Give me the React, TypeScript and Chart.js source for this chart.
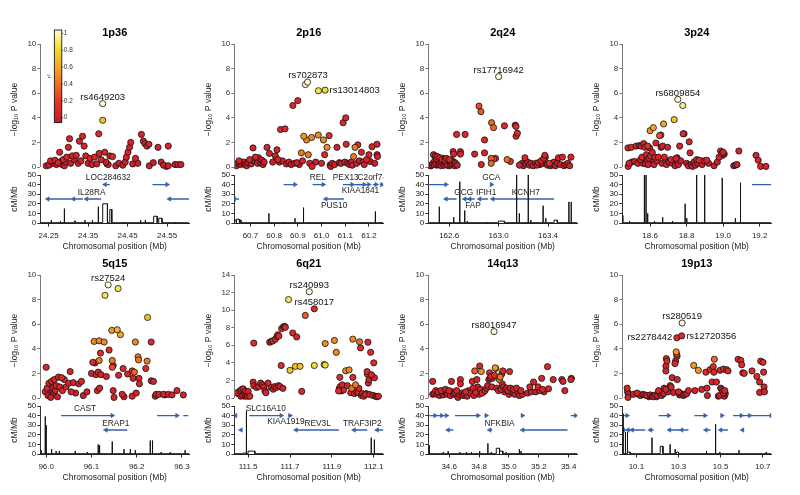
import React, { useEffect, useRef } from 'react';
import { Chart, registerables } from 'chart.js';

Chart.register(...registerables);

type Snp = [number, number, number];
type Gene = [number, number, number, number, string?, number?, number?];
type Seg = [number, number, number];
type RsLabel = [string, number, number, string];

const FONT = "'Liberation Sans', Arial, sans-serif";
Chart.defaults.font.family = FONT;
Chart.defaults.color = '#222';

// ---------- data ----------
const regionTitles = ['1p36', '2p16', '2q24', '3p24', '5q15', '6q21', '14q13', '19p13'];
const xWindows: [number, number][] = [
  [24.229, 24.606], [60.632, 61.26], [162.431, 163.636], [18.448, 19.263],
  [95.987, 96.316], [111.434, 112.145], [34.46, 35.457], [10.033, 10.74],
];
const yTops = [10, 10, 10, 10, 10, 14, 10, 10];
const recTicks = [0, 10, 20, 30, 40, 50];
const r2TickLabels = ['0', '0.2', '0.4', '0.6', '0.8', '1'];

const xTicks1p36 = ['24.25', '24.35', '24.45', '24.55'];
const xTicks2p16 = ['60.7', '60.8', '60.9', '61.0', '61.1', '61.2'];
const xTicks2q24 = ['162.6', '163.0', '163.4'];
const xTicks3p24 = ['18.6', '18.8', '19.0', '19.2'];
const xTicks5q15 = ['96.0', '96.1', '96.2', '96.3'];
const xTicks6q21 = ['111.5', '111.7', '111.9', '112.1'];
const xTicks14q13 = ['34.6', '34.8', '35.0', '35.2', '35.4'];
const xTicks19p13 = ['10.1', '10.3', '10.5', '10.7'];

const snps1p36: Snp[] = [
  [24.244,0.1,0.05],[24.251,0.15,0.05],[24.255,0.5,0.1],[24.262,0.3,0.05],[24.266,0.55,0.1],[24.27,0.2,0.05],[24.274,0.35,0.1],[24.278,1.2,0.1],[24.281,0.45,0.05],[24.284,0.2,0.05],[24.287,0.6,0.1],[24.29,0.1,0.05],[24.293,0.4,0.05],[24.296,0.8,0.1],[24.3,1.6,0.1],[24.303,2.3,0.1],[24.306,0.3,0.05],[24.31,0.9,0.1],[24.315,0.6,0.05],[24.32,0.95,0.1],[24.325,0.3,0.05],[24.328,2.1,0.1],[24.332,0.5,0.1],[24.336,2.5,0.1],[24.34,1.7,0.1],[24.344,0.9,0.1],[24.35,0.3,0.05],[24.355,0.7,0.1],[24.36,0.2,0.05],[24.366,0.8,0.1],[24.372,0.25,0.05],[24.377,2.7,0.15],[24.378,1.1,0.1],[24.383,0.6,0.1],[24.387,5.15,1],[24.387,3.8,0.7],[24.392,1.2,0.1],[24.395,0.4,0.05],[24.398,0.25,0.02],[24.401,0.2,0.02],[24.405,0.9,0.1],[24.412,0.85,0.1],[24.42,0.1,0.05],[24.428,0.3,0.05],[24.438,0.15,0.05],[24.444,0.4,0.05],[24.447,0.8,0.1],[24.451,1.2,0.1],[24.455,1.6,0.1],[24.458,2.0,0.1],[24.463,0.25,0.05],[24.47,0.7,0.1],[24.476,0.3,0.05],[24.485,2.65,0.1],[24.49,2.1,0.1],[24.494,1.9,0.1],[24.499,1.7,0.1],[24.504,1.85,0.1],[24.505,0.1,0.05],[24.515,0.35,0.05],[24.527,1.6,0.1],[24.535,0.4,0.05],[24.541,0.15,0.05],[24.548,0.05,0.02],[24.553,1.7,0.1],[24.553,0.1,0.05],[24.57,0.2,0.05],[24.577,0.2,0.05],[24.585,0.2,0.05],
];
const snps2p16: Snp[] = [
  [60.641,0.1,0.05],[60.646,0.3,0.05],[60.652,0.5,0.1],[60.657,0.2,0.05],[60.662,0.35,0.05],[60.668,0.25,0.02],[60.673,0.4,0.05],[60.678,0.2,0.05],[60.684,0.1,0.05],[60.69,0.35,0.05],[60.697,0.6,0.1],[60.703,0.25,0.05],[60.711,1.55,0.1],[60.716,0.5,0.05],[60.721,0.8,0.1],[60.726,0.65,0.05],[60.73,0.3,0.05],[60.735,0.75,0.05],[60.739,0.45,0.02],[60.744,0.3,0.05],[60.749,0.55,0.05],[60.753,0.2,0.05],[60.758,0.4,0.05],[60.77,1.6,0.1],[60.78,1.1,0.1],[60.794,0.4,0.05],[60.805,0.9,0.1],[60.812,1.4,0.1],[60.816,0.6,0.1],[60.822,0.4,0.05],[60.827,3.05,0.15],[60.846,3.1,0.15],[60.835,0.5,0.05],[60.852,0.25,0.05],[60.862,0.4,0.05],[60.872,0.2,0.05],[60.879,5.0,0.15],[60.886,0.3,0.05],[60.9,5.4,0.15],[60.896,0.35,0.05],[60.906,0.2,0.02],[60.915,1.15,0.45],[60.92,0.5,0.1],[60.925,2.5,0.55],[60.932,6.7,1.0],[60.937,2.2,0.5],[60.941,6.9,1.0],[60.944,1.0,0.45],[60.95,0.3,0.1],[60.958,2.4,0.5],[60.96,0.05,0.1],[60.975,0.4,0.05],[60.986,2.6,0.5],[60.987,6.2,0.85],[61.0,0.3,0.1],[61.008,2.2,0.5],[61.013,1.0,0.15],[61.015,6.25,0.8],[61.023,1.6,0.5],[61.032,2.55,0.2],[61.036,0.15,0.05],[61.039,0.05,0.05],[61.045,0.3,0.05],[61.055,0.2,0.05],[61.065,1.6,0.1],[61.075,0.35,0.05],[61.082,0.3,0.05],[61.091,3.6,0.15],[61.098,0.4,0.05],[61.102,4.0,0.15],[61.104,1.85,0.1],[61.11,0.3,0.05],[61.118,0.2,0.05],[61.125,0.4,0.05],[61.13,0.15,0.05],[61.135,0.85,0.45],[61.141,1.6,0.45],[61.148,0.3,0.05],[61.153,1.8,0.15],[61.16,0.5,0.05],[61.168,1.2,0.1],[61.175,0.4,0.05],[61.18,0.2,0.05],[61.19,0.6,0.1],[61.2,1.0,0.1],[61.205,0.45,0.05],[61.213,1.65,0.1],[61.224,0.3,0.05],[61.234,1.85,0.1],[61.234,1.0,0.05],[61.236,0.85,0.05],
];
const snps2q24: Snp[] = [
  [162.445,0.1,0.05],[162.452,0.1,0.02],[162.46,0.15,0.05],[162.468,0.3,0.05],[162.473,1.0,0.1],[162.478,0.2,0.05],[162.483,0.5,0.05],[162.488,0.9,0.1],[162.493,0.3,0.05],[162.498,0.7,0.1],[162.5,0.15,0.02],[162.505,0.85,0.1],[162.51,0.4,0.05],[162.515,0.6,0.05],[162.52,0.2,0.05],[162.525,0.75,0.1],[162.53,0.4,0.05],[162.536,0.1,0.05],[162.542,0.6,0.1],[162.548,0.3,0.05],[162.554,0.7,0.05],[162.56,0.15,0.05],[162.566,0.55,0.1],[162.572,0.3,0.05],[162.578,0.7,0.1],[162.584,0.2,0.05],[162.59,0.5,0.05],[162.596,0.1,0.02],[162.602,0.6,0.1],[162.608,0.3,0.05],[162.614,0.15,0.05],[162.62,0.55,0.05],[162.626,0.25,0.05],[162.632,1.25,0.1],[162.636,1.05,0.1],[162.64,0.4,0.05],[162.646,0.1,0.05],[162.652,0.3,0.05],[162.66,2.65,0.15],[162.665,0.15,0.05],
  [162.691,1.25,0.1],[162.691,1.05,0.1],[162.729,2.65,0.15],[162.806,1.05,0.1],[162.841,4.95,0.3],[162.857,4.5,0.35],[162.86,0.2,0.1],[162.886,2.2,0.15],[162.886,1.15,0.1],[162.943,3.6,0.4],[162.959,3.2,0.4],[162.94,0.3,0.4],[162.94,0.7,0.35],[162.96,0.65,0.3],[162.975,0.7,0.2],[163.0,7.35,1.0],[163.047,3.35,0.15],[163.069,0.6,0.4],[163.095,0.45,0.2],[163.135,3.4,0.15],[163.141,3.3,0.15],[163.141,2.5,0.15],[163.152,2.75,0.15],[163.168,0.15,0.1],[163.19,0.3,0.05],[163.2,0.1,0.05],[163.213,0.75,0.1],[163.22,0.25,0.05],[163.235,0.4,0.05],[163.25,0.15,0.05],[163.262,0.3,0.05],[163.28,0.1,0.05],[163.29,0.2,0.02],[163.3,0.3,0.05],[163.31,0.15,0.05],[163.322,0.35,0.05],[163.335,0.2,0.02],[163.345,0.5,0.1],[163.355,0.3,0.05],[163.365,0.7,0.1],[163.374,0.95,0.1],[163.378,0.8,0.05],[163.385,0.25,0.05],[163.395,0.15,0.05],[163.41,0.3,0.2],[163.42,0.1,0.05],[163.43,0.2,0.05],[163.448,0.4,0.05],[163.46,0.1,0.05],[163.475,0.3,0.05],[163.484,0.75,0.1],[163.5,0.2,0.05],[163.516,0.8,0.1],[163.53,0.1,0.05],[163.545,0.2,0.05],[163.56,0.3,0.05],[163.575,0.1,0.05],[163.585,0.8,0.1],
];
const snps3p24: Snp[] = [
  [18.479,1.55,0.1],[18.48,0.05,0.1],[18.485,0.3,0.1],[18.497,1.6,0.1],[18.5,0.4,0.05],[18.515,0.45,0.05],[18.524,1.7,0.1],[18.533,0.3,0.05],[18.542,1.75,0.1],[18.548,0.6,0.1],[18.551,1.7,0.1],[18.556,0.8,0.1],[18.56,0.3,0.05],[18.565,1.9,0.1],[18.569,0.5,0.05],[18.572,1.6,0.15],[18.576,0.25,0.05],[18.58,1.0,0.1],[18.583,0.6,0.05],[18.587,1.7,0.2],[18.59,0.2,0.05],[18.594,0.7,0.1],[18.6,2.95,0.55],[18.598,1.55,0.1],[18.603,0.9,0.1],[18.607,0.35,0.02],[18.612,1.2,0.1],[18.615,0.6,0.05],[18.618,3.2,0.6],[18.622,0.2,0.05],[18.628,0.8,0.1],[18.632,1.95,0.1],[18.638,0.5,0.05],[18.645,0.8,0.1],[18.652,2.55,0.3],[18.659,2.6,0.25],[18.66,1.6,0.1],[18.665,0.3,0.05],[18.669,1.7,0.1],[18.674,3.5,0.6],[18.678,0.8,0.1],[18.684,0.5,0.05],[18.69,0.2,0.05],[18.696,1.6,0.1],[18.705,0.4,0.05],[18.714,0.6,0.1],[18.723,0.3,0.05],[18.732,3.85,0.7],[18.737,0.1,0.05],[18.742,0.7,0.1],[18.748,0.75,0.02],[18.752,5.5,1.0],[18.755,0.2,0.05],[18.762,1.7,0.1],[18.768,0.5,0.05],[18.779,5.0,0.9],[18.781,2.7,0.15],[18.786,2.7,0.1],[18.8,0.3,0.05],[18.81,0.1,0.05],[18.814,2.05,0.1],[18.819,1.15,0.1],[18.825,0.2,0.05],[18.832,0.05,0.05],[18.84,0.4,0.05],[18.848,0.15,0.05],[18.855,0.6,0.1],[18.86,0.3,0.05],[18.868,0.55,0.1],[18.877,0.5,0.05],[18.885,0.2,0.05],[18.895,0.5,0.05],[18.91,0.55,0.1],[18.92,0.3,0.05],[18.95,0.1,0.05],[18.968,0.4,0.05],[18.978,0.8,0.1],[18.986,1.3,0.1],[18.993,1.1,0.1],[18.997,0.95,0.05],[19.0,1.2,0.1],[19.006,1.05,0.02],[19.058,0.1,0.05],[19.067,0.15,0.05],[19.076,0.2,0.05],[19.086,1.3,0.1],[19.18,0.95,0.1],[19.192,0.55,0.1],[19.205,0.05,0.1],[19.234,0.05,0.1],
];
const snps5q15: Snp[] = [
  [96.0,2.5,0.1],[95.998,0.5,0.05],[96.002,0.8,0.1],[96.004,0.2,0.05],[96.006,1.2,0.1],[96.008,0.4,0.02],[96.01,0.05,0.05],[96.012,1.35,0.1],[96.014,0.8,0.05],[96.016,0.3,0.02],[96.018,1.5,0.1],[96.02,0.6,0.05],[96.022,1.0,0.1],[96.025,0.1,0.05],[96.027,1.7,0.15],[96.03,0.9,0.1],[96.034,1.65,0.15],[96.036,0.6,0.1],[96.04,1.5,0.1],[96.044,0.9,0.1],[96.05,1.2,0.1],[96.053,2.15,0.1],[96.055,0.5,0.1],[96.06,1.25,0.1],[96.065,0.4,0.05],[96.072,1.15,0.1],[96.078,1.35,0.1],[96.082,0.2,0.05],[96.09,0.5,0.1],[96.1,2.0,0.1],[96.103,2.9,0.15],[96.106,4.6,0.5],[96.108,2.85,0.1],[96.11,1.9,0.1],[96.113,0.6,0.1],[96.115,2.1,0.1],[96.117,4.65,0.5],[96.117,3.05,0.45],[96.118,0.8,0.1],[96.12,3.65,0.15],[96.121,1.9,0.1],[96.128,4.55,0.5],[96.13,8.35,0.85],[96.133,1.75,0.1],[96.137,9.2,1.0],[96.139,3.9,0.15],[96.145,5.5,0.55],[96.146,3.05,0.45],[96.146,2.5,0.3],[96.148,2.65,0.15],[96.148,0.6,0.1],[96.15,0.05,0.1],[96.157,5.55,0.65],[96.159,8.9,0.85],[96.16,1.85,0.1],[96.164,5.15,0.6],[96.168,0.3,0.1],[96.17,2.4,0.15],[96.172,0.1,0.05],[96.18,1.95,0.1],[96.19,2.2,0.15],[96.19,0.15,0.1],[96.192,1.6,0.1],[96.195,2.1,0.4],[96.197,4.55,0.5],[96.199,0.4,0.1],[96.203,3.35,0.45],[96.204,3.1,0.45],[96.205,1.6,0.1],[96.206,1.15,0.1],[96.22,2.4,0.15],[96.223,3.0,0.45],[96.224,6.55,0.7],[96.232,4.55,0.15],[96.232,1.4,0.1],[96.237,1.35,0.1],[96.241,0.15,0.1],[96.243,0.3,0.1],[96.249,0.3,0.1],[96.259,0.3,0.1],[96.262,0.25,0.05],[96.27,0.3,0.1],[96.278,0.25,0.1],[96.289,0.6,0.1],[96.303,0.25,0.1],
];
const snps6q21: Snp[] = [
  [111.445,0.6,0.1],[111.453,0.5,0.05],[111.461,0.8,0.1],[111.465,0.2,0.05],[111.468,0.95,0.1],[111.471,0.4,0.05],[111.476,1.05,0.1],[111.48,0.6,0.05],[111.484,0.2,0.02],[111.488,0.8,0.1],[111.492,0.5,0.05],[111.497,0.2,0.05],[111.5,0.75,0.1],[111.508,0.2,0.1],[111.524,1.8,0.1],[111.527,6.25,0.15],[111.527,1.4,0.1],[111.54,1.2,0.1],[111.55,1.3,0.1],[111.56,1.7,0.1],[111.568,1.5,0.1],[111.575,1.25,0.1],[111.58,0.8,0.1],[111.585,0.6,0.1],[111.595,1.7,0.1],[111.603,6.35,0.15],[111.61,1.2,0.1],[111.611,6.45,0.15],[111.618,6.5,0.15],[111.62,1.0,0.1],[111.626,1.3,0.1],[111.63,6.7,0.15],[111.635,1.2,0.1],[111.638,7.0,0.15],[111.642,7.2,0.15],[111.645,1.4,0.1],[111.647,7.05,0.15],[111.652,1.3,0.1],[111.658,3.7,0.15],[111.66,7.9,0.15],[111.666,1.1,0.1],[111.669,8.1,0.15],[111.674,8.15,0.15],[111.678,8.05,0.15],[111.693,11.2,0.85],[111.7,3.15,0.7],[111.713,7.4,0.15],[111.726,3.6,0.7],[111.732,6.95,0.15],[111.748,3.6,0.7],[111.756,0.75,0.15],[111.773,9.4,0.35],[111.792,12.1,1.0],[111.816,10.15,0.15],[111.816,3.7,0.8],[111.863,3.8,0.8],[111.868,3.75,0.8],[111.868,6.2,0.5],[111.912,6.55,0.5],[111.921,5.2,0.5],[111.932,0.8,0.15],[111.936,1.1,0.1],[111.938,2.35,0.15],[111.94,1.3,0.1],[111.945,0.8,0.1],[111.95,1.5,0.1],[111.955,0.9,0.1],[111.966,3.1,0.5],[111.974,1.4,0.1],[111.982,3.2,0.5],[111.99,0.6,0.1],[111.995,1.1,0.45],[112.0,6.7,0.5],[112.0,2.35,0.15],[112.008,0.5,0.1],[112.013,1.5,0.45],[112.018,0.7,0.1],[112.025,0.6,0.1],[112.029,1.1,0.1],[112.032,6.4,0.4],[112.037,5.7,0.15],[112.04,0.3,0.1],[112.045,0.5,0.1],[112.052,0.2,0.1],[112.06,0.4,0.1],[112.065,0.5,0.05],[112.068,3.0,0.15],[112.07,2.7,0.1],[112.072,6.35,0.1],[112.074,1.7,0.1],[112.077,2.1,0.1],[112.08,0.4,0.1],[112.085,5.2,0.15],[112.088,2.65,0.15],[112.092,2.5,0.1],[112.095,0.3,0.1],[112.1,4.0,0.15],[112.103,2.3,0.1],[112.108,0.2,0.1],[112.115,0.15,0.1],[112.122,0.2,0.1],
];
const snps14q13: Snp[] = [
  [34.489,1.35,0.1],[34.49,0.3,0.05],[34.5,0.4,0.05],[34.51,0.6,0.1],[34.518,0.3,0.05],[34.526,0.5,0.1],[34.535,0.2,0.05],[34.545,0.6,0.1],[34.552,0.4,0.05],[34.56,0.25,0.05],[34.568,0.5,0.05],[34.575,0.7,0.1],[34.582,0.4,0.05],[34.59,0.3,0.05],[34.598,0.6,0.1],[34.608,0.2,0.05],[34.615,1.35,0.1],[34.62,0.5,0.05],[34.63,0.3,0.05],[34.64,0.4,0.05],[34.65,0.6,0.1],[34.658,0.05,0.05],[34.668,0.3,0.05],[34.675,1.5,0.1],[34.675,1.15,0.1],[34.685,0.4,0.05],[34.693,0.2,0.05],[34.703,0.3,0.05],[34.71,0.5,0.1],[34.72,0.15,0.05],[34.73,0.6,0.05],[34.74,0.4,0.05],[34.755,1.35,0.1],[34.76,0.8,0.1],[34.765,0.2,0.05],[34.771,2.2,0.35],[34.778,0.45,0.1],[34.785,1.5,0.1],[34.79,0.9,0.05],[34.8,0.3,0.05],[34.804,2.6,0.15],[34.81,0.7,0.1],[34.815,2.15,0.5],[34.82,0.4,0.1],[34.83,0.5,0.05],[34.84,0.6,0.1],[34.85,0.8,0.1],[34.858,1.0,0.1],[34.865,1.5,0.1],[34.87,2.05,0.15],[34.875,1.6,0.1],[34.88,1.75,0.15],[34.885,0.9,0.1],[34.89,1.6,0.1],[34.9,5.4,1.0],[34.903,1.85,0.15],[34.908,2.45,0.55],[34.912,2.4,0.5],[34.918,0.8,0.1],[34.93,0.6,0.1],[34.936,1.5,0.45],[34.941,1.7,0.45],[34.948,0.7,0.1],[34.952,1.95,0.15],[34.955,1.15,0.1],[34.959,2.2,0.15],[34.965,0.9,0.1],[34.97,0.5,0.05],[34.978,0.7,0.1],[34.985,0.8,0.1],[34.993,0.6,0.1],[35.0,0.3,0.05],[35.004,2.15,0.15],[35.01,0.8,0.1],[35.02,0.5,0.05],[35.03,0.7,0.1],[35.04,0.3,0.05],[35.05,0.8,0.1],[35.06,0.5,0.05],[35.07,0.2,0.05],[35.08,0.6,0.1],[35.09,0.3,0.05],[35.125,0.4,0.05],[35.14,0.9,0.1],[35.15,0.5,0.05],[35.165,1.3,0.1],[35.18,0.5,0.05],[35.195,0.9,0.1],[35.205,0.6,0.05],[35.219,1.6,0.1],[35.225,0.7,0.1],[35.235,0.5,0.05],[35.258,2.55,0.15],[35.265,0.75,0.1],[35.296,1.5,0.1],[35.354,1.5,0.1],[35.362,1.35,0.1],[35.374,0.6,0.1],[35.418,1.6,0.1],[35.415,1.5,0.1],
];
const snps19p13: Snp[] = [
  [10.056,0.8,0.1],[10.058,0.5,0.05],[10.062,0.3,0.05],[10.06,0.05,0.1],[10.085,0.3,0.05],[10.103,0.4,0.1],[10.11,0.3,0.05],[10.119,0.2,0.05],[10.13,0.3,0.05],[10.14,0.25,0.05],[10.15,0.2,0.05],[10.16,0.1,0.02],[10.166,0.25,0.05],[10.175,0.15,0.05],[10.182,0.1,0.05],[10.19,0.25,0.05],[10.195,0.1,0.02],[10.2,0.2,0.05],[10.205,0.6,0.1],[10.213,0.4,0.05],[10.22,0.2,0.05],[10.229,0.35,0.05],[10.232,0.8,0.1],[10.24,0.7,0.1],[10.242,3.2,0.15],[10.245,3.0,0.15],[10.24,2.6,0.1],[10.24,2.2,0.1],[10.25,0.5,0.05],[10.26,1.0,0.1],[10.265,0.9,0.1],[10.27,1.65,0.1],[10.276,0.45,0.05],[10.286,3.0,0.15],[10.283,2.8,0.15],[10.289,3.75,0.55],[10.291,3.55,0.2],[10.293,3.4,0.15],[10.292,4.9,0.15],[10.294,1.5,0.1],[10.3,0.5,0.1],[10.305,0.25,0.05],[10.308,0.4,0.05],[10.315,5.05,0.15],[10.317,6.1,1.0],[10.323,0.2,0.05],[10.33,0.3,0.05],[10.339,0.35,0.05],[10.347,0.6,0.1],[10.372,2.65,0.55],[10.378,0.6,0.1],[10.394,2.25,0.55],[10.41,0.7,0.1],[10.43,2.1,0.15],[10.435,0.8,0.1],[10.437,0.2,0.05],[10.45,2.3,0.15],[10.459,1.3,0.1],[10.465,2.55,0.15],[10.468,2.1,0.15],[10.47,3.15,0.4],[10.48,1.3,0.1],[10.489,0.15,0.05],[10.495,0.2,0.05],[10.497,2.25,0.15],[10.5,0.8,0.1],[10.505,0.7,0.1],[10.51,0.55,0.1],[10.513,2.35,0.15],[10.515,0.4,0.1],[10.518,0.15,0.05],[10.52,0.6,0.1],[10.522,0.35,0.05],[10.528,2.3,0.15],[10.535,2.2,0.15],[10.583,3.15,0.15],[10.596,3.05,0.15],[10.6,2.7,0.15],[10.605,2.05,0.15],[10.612,2.0,0.15],[10.649,2.2,0.15],[10.672,1.75,0.15],[10.685,1.3,0.1],[10.685,0.45,0.1],[10.69,3.0,0.15],[10.701,2.9,0.15],[10.704,2.1,0.15],[10.706,0.9,0.1],[10.708,0.5,0.1],
];

// genes: [start, end, track level (cM/Mb units), strand, label, label side, label position]
const genes1p36: Gene[] = [
  [24.248,24.307,25,-1],[24.313,24.337,25,-1],[24.346,24.383,25,-1,'IL28RA',1,24.359],
  [24.393,24.405,40,-1,'LOC284632',1,24.401],[24.513,24.55,40,1],[24.556,24.606,25,-1],
];
const genes2p16: Gene[] = [
  [60.84,60.888,40,1],[60.962,61.007,40,1,'REL',1],[61.09,61.129,40,1,'PEX13',1,61.102],
  [61.136,61.199,40,1,'C2orf74',1,61.214],[61.15,61.18,40,1,'KIAA1841',-1,61.164],
  [61.216,61.23,40,1],[61.246,61.255,40,1],[60.632,60.652,25,-1],[61.018,61.094,25,-1,'PUS10',-1,61.053],[61.255,61.258,25,0],
];
const genes2q24: Gene[] = [
  [162.431,162.574,40,1],[162.938,162.942,40,1,'GCA',1],[162.574,162.66,25,-1],
  [162.726,162.762,25,-1,'GCG',1,162.718],[162.766,162.806,25,-1,'FAP',-1,162.793],
  [162.847,162.914,25,-1,'IFIH1',1,162.9],[162.953,163.449,25,-1,'KCNH7',1,163.22],
];
const genes3p24: Gene[] = [[19.158,19.263,40,0]];
const genes5q15: Gene[] = [
  [96.033,96.146,40,1,'CAST',1,96.086],[96.132,96.179,25,-1,'ERAP1',1,96.154],[96.245,96.289,40,1],[96.303,96.314,40,0],
];
const genes6q21: Gene[] = [
  [111.44,111.445,40,-1],[111.466,111.47,25,-1],[111.505,111.658,40,1,'SLC16A10',1,111.584],
  [111.69,111.7,40,1,'KIAA1919',-1,111.68],[111.729,111.934,25,-1,'REV3L',1,111.832],
  [112.006,112.069,25,-1,'TRAF3IP2',1,112.045],[112.116,112.148,25,-1],
];
const genes14q13: Gene[] = [
  [34.467,34.505,40,1],[34.516,34.549,40,1],[34.56,34.582,40,1],[34.638,34.793,40,1],[34.837,34.848,40,1],
  [35.085,35.09,40,1],[35.414,35.447,40,1],[34.593,34.627,25,-1],[34.871,34.888,25,-1,'NFKBIA',1,34.937],[35.092,35.392,25,-1],
];
const genes19p13: Gene[] = [
  [10.03,10.056,40,1],[10.205,10.253,40,1],[10.375,10.426,40,1],[10.502,10.506,40,1],[10.559,10.598,40,1],[10.606,10.638,40,1],[10.646,10.74,40,1],
  [10.037,10.053,25,-1],[10.06,10.072,25,-1],[10.08,10.142,25,-1],[10.166,10.182,25,-1],[10.257,10.308,25,-1],[10.315,10.347,25,-1],[10.43,10.452,25,-1],[10.5,10.535,25,-1],[10.604,10.608,25,-1],
];

// recombination rate: [from, to, cM/Mb]
const recomb1p36: Seg[] = [
  [24.257,24.257,3],[24.28,24.28,2],[24.29,24.29,15],[24.315,24.318,2],[24.342,24.342,3],[24.361,24.361,3],[24.376,24.376,17],[24.387,24.399,20],[24.405,24.41,14],[24.44,24.44,1],[24.483,24.483,3],[24.495,24.495,3],[24.516,24.525,7],[24.529,24.537,5],[24.57,24.57,1],
];
const recomb2p16: Seg[] = [
  [60.634,60.64,3],[60.642,60.652,4],[60.655,60.66,3],[60.665,60.665,1],[60.778,60.778,10],[60.79,60.79,1],[60.84,60.84,1],[60.888,60.888,5],[60.924,60.924,16],[60.95,60.95,1],[61.0,61.0,1],[61.06,61.06,1],[61.13,61.13,1],[61.185,61.185,1],[61.227,61.227,12],[61.245,61.245,1],
];
const recomb2q24: Seg[] = [
  [162.52,162.52,17],[162.637,162.637,6],[162.686,162.686,43],[162.726,162.726,13],[162.747,162.747,2],[162.905,162.905,1],[162.999,163.047,2],[163.146,163.146,50],[163.168,163.168,10],[163.24,163.24,50],[163.261,163.261,3],[163.36,163.36,18],[163.382,163.382,5],[163.449,163.475,3],[163.569,163.569,22],[163.588,163.588,22],
];
const recomb3p24: Seg[] = [
  [18.451,18.451,8],[18.488,18.488,2],[18.569,18.569,50],[18.578,18.578,50],[18.587,18.587,10],[18.624,18.624,2],[18.669,18.669,6],[18.723,18.723,2],[18.792,18.792,20],[18.801,18.801,5],[18.855,18.855,50],[18.899,18.899,50],[18.995,18.995,47],[19.067,19.067,5],[19.095,19.095,42],[19.113,19.113,1],
];
const recomb5q15: Seg[] = [
  [95.989,95.989,4],[95.998,95.998,39],[96.0,96.0,30],[96.012,96.012,5],[96.022,96.022,3],[96.029,96.029,3],[96.064,96.064,3],[96.091,96.091,2],[96.115,96.115,10],[96.118,96.118,9],[96.146,96.146,13],[96.172,96.172,5],[96.186,96.186,5],[96.197,96.197,4],[96.23,96.23,14],[96.235,96.235,14],[96.254,96.254,2],[96.274,96.274,2],[96.307,96.307,4],
];
const recomb6q21: Seg[] = [
  [111.476,111.489,1],[111.492,111.492,45],[111.5,111.532,3],[111.6,111.6,1],[111.75,111.75,1],[111.9,111.9,1],[112.088,112.088,17],[112.103,112.103,15],
];
const recomb14q13: Seg[] = [
  [34.467,34.467,9],[34.56,34.56,2],[34.593,34.593,3],[34.671,34.671,2],[34.715,34.715,2],[34.749,34.749,2],[34.804,34.804,3],[34.859,34.859,11],[34.882,34.882,2],[34.915,34.937,6],[34.937,34.959,3],[34.981,34.981,2],[35.07,35.07,5],[35.081,35.081,3],
];
const recomb19p13: Seg[] = [
  [10.037,10.037,42],[10.048,10.048,23],[10.056,10.056,23],[10.06,10.07,2],[10.174,10.174,17],[10.213,10.226,8],[10.26,10.26,10],[10.284,10.284,5],[10.29,10.3,2],[10.433,10.433,3],[10.476,10.476,31],[10.496,10.496,2],[10.587,10.587,4],[10.716,10.716,2],
];

const rs1p36: RsLabel[] = [['rs4649203', 24.387, 5.15, 'top']];
const rs2p16: RsLabel[] = [['rs702873', 60.943, 6.9, 'top'], ['rs13014803', 61.015, 6.25, 'right']];
const rs2q24: RsLabel[] = [['rs17716942', 163.0, 7.35, 'top']];
const rs3p24: RsLabel[] = [['rs6809854', 18.752, 5.5, 'top']];
const rs5q15: RsLabel[] = [['rs27524', 96.137, 9.2, 'top']];
const rs6q21: RsLabel[] = [['rs240993', 111.792, 12.1, 'top'], ['rs458017', 111.816, 10.15, 'top']];
const rs14q13: RsLabel[] = [['rs8016947', 34.9, 5.4, 'top']];
const rs19p13: RsLabel[] = [['rs280519', 10.317, 6.1, 'top'], ['rs2278442', 10.292, 4.9, 'left'], ['rs12720356', 10.315, 5.05, 'right']];

interface Panel { title: string; win: [number, number]; yTop: number; xTicks: string[]; snps: Snp[]; genes: Gene[]; recomb: Seg[]; rs: RsLabel[]; }

const xTickSets = [xTicks1p36, xTicks2p16, xTicks2q24, xTicks3p24, xTicks5q15, xTicks6q21, xTicks14q13, xTicks19p13];
const snpSets = [snps1p36, snps2p16, snps2q24, snps3p24, snps5q15, snps6q21, snps14q13, snps19p13];
const geneSets = [genes1p36, genes2p16, genes2q24, genes3p24, genes5q15, genes6q21, genes14q13, genes19p13];
const recombSets = [recomb1p36, recomb2p16, recomb2q24, recomb3p24, recomb5q15, recomb6q21, recomb14q13, recomb19p13];
const rsSets = [rs1p36, rs2p16, rs2q24, rs3p24, rs5q15, rs6q21, rs14q13, rs19p13];

const panels: Panel[] = regionTitles.map((title, i) => ({
  title, win: xWindows[i], yTop: yTops[i], xTicks: xTickSets[i], snps: snpSets[i],
  genes: geneSets[i], recomb: recombSets[i], rs: rsSets[i],
}));

// ---------- styling ----------
const GENE_BLUE = '#3461ab';
const colorStops: [number, number[]][] = [
  [0, [200, 25, 45]], [0.2, [225, 48, 40]], [0.4, [236, 105, 35]],
  [0.6, [243, 168, 35]], [0.8, [240, 222, 45]], [1, [255, 250, 212]],
];
function r2Color(v: number): string {
  for (let i = 1; i < colorStops.length; i++) {
    if (v <= colorStops[i][0]) {
      const [a, ca] = colorStops[i - 1];
      const [b, cb] = colorStops[i];
      const t = (v - a) / (b - a);
      const c = ca.map((c0, k) => Math.round(c0 + (cb[k] - c0) * t));
      return `rgb(${c[0]},${c[1]},${c[2]})`;
    }
  }
  return 'rgb(255,250,212)';
}

function drawColorBar(ctx: CanvasRenderingContext2D, ca: any) {
  const x0 = ca.left + 14, y0 = ca.top - 14, w = 7.5, h = 92.5;
  const grad = ctx.createLinearGradient(0, y0 + h, 0, y0);
  colorStops.forEach(([v, c]) => grad.addColorStop(v, `rgb(${c[0]},${c[1]},${c[2]})`));
  ctx.fillStyle = grad;
  ctx.fillRect(x0, y0, w, h);
  ctx.strokeStyle = '#000';
  ctx.lineWidth = 0.8;
  ctx.strokeRect(x0, y0, w, h);
  ctx.font = `6.5px ${FONT}`;
  ctx.fillStyle = '#333';
  ctx.textAlign = 'left';
  ctx.textBaseline = 'middle';
  ctx.lineWidth = 0.6;
  r2TickLabels.forEach((lab, i) => {
    const v = i / (r2TickLabels.length - 1);
    const ty = y0 + 3.3 + (1 - v) * 84.4;
    ctx.beginPath();
    ctx.moveTo(x0 + w, ty);
    ctx.lineTo(x0 + w + 1.5, ty);
    ctx.stroke();
    ctx.fillText(lab, x0 + w + 2, ty);
  });
  ctx.save();
  ctx.translate(x0 - 5, y0 + h / 2);
  ctx.rotate(-Math.PI / 2);
  ctx.textAlign = 'center';
  ctx.font = `6px ${FONT}`;
  ctx.fillText('r²', 0, 0);
  ctx.restore();
}

const annotPlugin = {
  id: 'annot',
  afterDatasetsDraw(chart: any, _args: any, opts: any) {
    const p: Panel = opts.panel;
    const ctx: CanvasRenderingContext2D = chart.ctx;
    const ca = chart.chartArea;
    const xs = chart.scales.x, yp = chart.scales.yP, yr = chart.scales.yR;
    ctx.save();
    const ax = Math.round(ca.left) + 0.5;
    ctx.strokeStyle = '#7a7a7a';
    ctx.lineWidth = 1;
    ctx.beginPath();
    ctx.moveTo(ax, yp.getPixelForValue(p.yTop));
    ctx.lineTo(ax, yp.getPixelForValue(0));
    ctx.stroke();
    ctx.fillStyle = '#000';
    ctx.font = `bold 11px ${FONT}`;
    ctx.textAlign = 'center';
    ctx.textBaseline = 'middle';
    ctx.fillText(p.title, (ca.left + ca.right) / 2, ca.top - 11);
    ctx.font = `9.5px ${FONT}`;
    ctx.fillStyle = '#111';
    for (const [t, x, y, pos] of p.rs) {
      const px = xs.getPixelForValue(x), py = yp.getPixelForValue(y);
      if (pos === 'top') {
        ctx.textAlign = 'center'; ctx.textBaseline = 'alphabetic';
        ctx.fillText(t, px, py - 3.8);
      } else if (pos === 'right') {
        ctx.textAlign = 'left'; ctx.textBaseline = 'middle';
        ctx.fillText(t, px + 4.5, py);
      } else {
        ctx.textAlign = 'right'; ctx.textBaseline = 'middle';
        ctx.fillText(t, px - 4.5, py);
      }
    }
    ctx.save();
    ctx.beginPath();
    ctx.rect(ca.left, 0, ca.right - ca.left, chart.height);
    ctx.clip();
    ctx.font = `8.3px ${FONT}`;
    ctx.fillStyle = '#222';
    ctx.textAlign = 'center';
    ctx.textBaseline = 'middle';
    for (const g of p.genes) {
      if (!g[4]) continue;
      const lx = g[6] ?? (g[0] + g[1]) / 2;
      const side = g[5] ?? 1;
      ctx.fillText(g[4], xs.getPixelForValue(lx), yr.getPixelForValue(g[2]) - 6.5 * side);
    }
    ctx.restore();
    if (opts.colorBar) drawColorBar(ctx, ca);
    ctx.restore();
  },
};

function buildConfig(p: Panel, colorBar: boolean): any {
  const [xMin, xMax] = p.win;
  const yMin = -p.yTop * 8 / 123;
  const base = 0.3;
  const rec: { x: number; y: number }[] = [{ x: xMin, y: base }];
  for (const [a, b, h] of p.recomb) rec.push({ x: a, y: base }, { x: a, y: h }, { x: b, y: h }, { x: b, y: base });
  rec.push({ x: xMax, y: base });

  const datasets: any[] = [
    { type: 'line', data: rec, yAxisID: 'yR', borderColor: '#111', borderWidth: 1, pointRadius: 0, fill: false, tension: 0 },
  ];
  for (const g of p.genes) {
    const [s, e, lvl, dir] = g;
    const head = dir > 0 ? 1 : dir < 0 ? 0 : -1;
    datasets.push({
      type: 'line', data: [{ x: s, y: lvl }, { x: e, y: lvl }], yAxisID: 'yR',
      borderColor: GENE_BLUE, borderWidth: 1.3, tension: 0, fill: false,
      pointStyle: 'triangle', pointRotation: dir > 0 ? 90 : 270,
      pointRadius: (c: any) => (c.dataIndex === head ? 2.6 : 0),
      pointBackgroundColor: GENE_BLUE, pointBorderColor: GENE_BLUE, pointBorderWidth: 0.5,
    });
  }
  const sorted = [...p.snps].sort((a, b) => a[2] - b[2]);
  const fills = sorted.map((s) => r2Color(s[2]));
  datasets.push({
    type: 'scatter', data: sorted.map(([x, y]) => ({ x, y })), yAxisID: 'yP', showLine: false,
    pointRadius: 3.1, pointBorderWidth: 0.8, pointBorderColor: '#111',
    pointBackgroundColor: (c: any) => fills[c.dataIndex],
  });

  const xVals = p.xTicks.map(Number);
  const pTicks: number[] = [];
  for (let v = 0; v <= p.yTop; v += 2) pTicks.push(v);
  const tickFont = { size: 8 };

  return {
    type: 'scatter',
    data: { datasets },
    options: {
      responsive: false,
      animation: false,
      events: [],
      layout: { padding: { top: 44, right: 3.7, left: 0, bottom: 0 } },
      plugins: { legend: { display: false }, tooltip: { enabled: false }, annot: { panel: p, colorBar } },
      scales: {
        x: {
          type: 'linear', position: 'bottom', min: xMin, max: xMax,
          afterBuildTicks: (s: any) => { s.ticks = xVals.map((v) => ({ value: v })); },
          afterFit: (s: any) => { s.height = 30; },
          ticks: { autoSkip: false, maxRotation: 0, font: tickFont, color: '#222', padding: 4, callback: (_v: any, i: number) => p.xTicks[i] },
          grid: { display: true, drawOnChartArea: false, drawTicks: true, tickLength: 3.5, color: '#222' },
          border: { display: true, color: '#222', width: 1 },
          title: { display: true, text: 'Chromosomal position (Mb)', font: { size: 8.5 }, color: '#222', padding: { top: 0, bottom: 1.2 } },
        },
        yR: {
          type: 'linear', position: 'left', stack: 'locus', stackWeight: 48, min: 0, max: 50,
          afterBuildTicks: (s: any) => { s.ticks = recTicks.map((v) => ({ value: v })); },
          afterFit: (s: any) => { s.width = 40.3; },
          ticks: { autoSkip: false, font: tickFont, color: '#222', padding: 1 },
          grid: { display: true, drawOnChartArea: false, drawTicks: true, tickLength: 3, color: '#333' },
          border: { display: true, color: '#333', width: 1 },
          title: { display: true, text: 'cM/Mb', font: { size: 8.5 }, color: '#222', padding: { top: 9.4, bottom: 0 } },
        },
        yP: {
          type: 'linear', position: 'left', stack: 'locus', stackWeight: 131, min: yMin, max: p.yTop,
          afterBuildTicks: (s: any) => { s.ticks = pTicks.map((v) => ({ value: v })); },
          afterFit: (s: any) => { s.width = 40.3; },
          ticks: { autoSkip: false, font: tickFont, color: '#333', padding: 1 },
          grid: { display: true, drawOnChartArea: false, drawTicks: true, tickLength: 3, color: '#7a7a7a' },
          border: { display: false },
          title: { display: true, text: '−log₁₀ P value', font: { size: 8.5 }, color: '#222', padding: { top: 9.4, bottom: 0 } },
        },
      },
    },
    plugins: [annotPlugin],
  };
}

function LocusPanel({ panel, index }: { panel: Panel; index: number }) {
  const ref = useRef<HTMLCanvasElement>(null);
  useEffect(() => {
    if (!ref.current) return;
    const chart = new Chart(ref.current, buildConfig(panel, index === 0));
    return () => chart.destroy();
  }, [panel, index]);
  const col = index % 4, row = Math.floor(index / 4);
  return (
    <canvas
      ref={ref}
      width={194}
      height={253}
      style={{ position: 'absolute', left: col * 194, top: row * 231, width: 194, height: 253, display: 'block' }}
    />
  );
}

export default function App() {
  return (
    <div style={{ position: 'absolute', left: 0, top: 0, width: 800, height: 495, background: '#fff', overflow: 'hidden' }}>
      {panels.map((p, i) => (
        <LocusPanel key={p.title} panel={p} index={i} />
      ))}
    </div>
  );
}
